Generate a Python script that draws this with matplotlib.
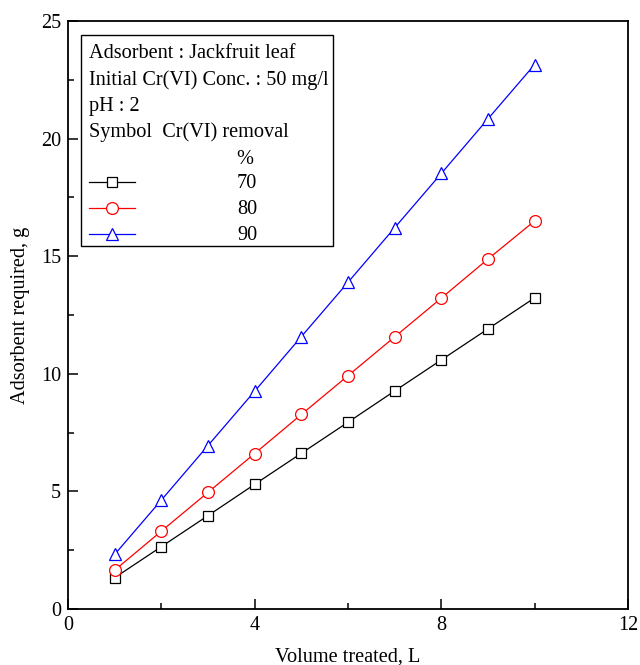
import matplotlib
matplotlib.use("Agg")
import matplotlib.pyplot as plt
from matplotlib.patches import Rectangle
from matplotlib.ticker import MultipleLocator

volume = [1, 2, 3, 4, 5, 6, 7, 8, 9, 10]
ads_70 = [1.33, 2.65, 3.97, 5.30, 6.62, 7.94, 9.27, 10.59, 11.91, 13.23]
ads_80 = [1.65, 3.31, 4.96, 6.61, 8.27, 9.92, 11.57, 13.22, 14.88, 16.50]
ads_90 = [2.32, 4.63, 6.95, 9.26, 11.58, 13.89, 16.21, 18.52, 20.84, 23.15]
removal = ["70", "80", "90"]
info_lines = ["Adsorbent : Jackfruit leaf",
              "Initial Cr(VI) Conc. : 50 mg/l",
              "pH : 2",
              "Symbol  Cr(VI) removal"]

plt.rcParams['font.family'] = ['Liberation Serif', 'DejaVu Serif']
plt.rcParams['font.size'] = 14.6

fig = plt.figure(figsize=(6.4, 6.65), dpi=100)
ax = fig.add_axes([68 / 640, 1 - 609 / 665, 560 / 640, 588 / 665])

styles = [("black", "s", 7.5), ("red", "o", 8.5), ("blue", "^", 9)]
series = [ads_70, ads_80, ads_90]
for (c, m, ms), ys in zip(styles, series):
    ax.plot(volume, ys, color=c, marker=m, markersize=ms, markerfacecolor="white",
            markeredgecolor=c, markeredgewidth=0.9, linewidth=0.9)

ax.set_xlim(0, 12)
ax.set_ylim(0, 25)
ax.xaxis.set_major_locator(MultipleLocator(4))
ax.xaxis.set_minor_locator(MultipleLocator(2))
ax.yaxis.set_major_locator(MultipleLocator(5))
ax.yaxis.set_minor_locator(MultipleLocator(2.5))
ax.tick_params(which="major", direction="in", length=7, width=1.1, labelsize=14.6, pad=5)
ax.tick_params(which="minor", direction="in", length=4, width=1.1)
for s in ax.spines.values():
    s.set_linewidth(1.3)
ax.set_xlabel("Volume treated, L", labelpad=9)
ax.set_ylabel("Adsorbent required, g", labelpad=8)


# hand-made legend box
def fx(px):
    return (px - 68) / 560


def fy(py):
    return (609 - py) / 588


ax.add_patch(Rectangle((fx(81), fy(246)), fx(333) - fx(81), fy(35) - fy(246),
                       transform=ax.transAxes, facecolor="white",
                       edgecolor="black", linewidth=1.0, zorder=5))
for i, line in enumerate(info_lines):
    ax.text(fx(89), fy(54 + 26 * i), line, transform=ax.transAxes,
            va="center", ha="left", zorder=6)
ax.text(fx(236), fy(159), "%", transform=ax.transAxes, va="center", ha="left", zorder=6)
for i, ((c, m, ms), lab) in enumerate(zip(styles, removal)):
    y = fy(182 + 26 * i)
    ax.plot([fx(89), fx(135)], [y, y], color=c, linewidth=0.9,
            transform=ax.transAxes, zorder=6, clip_on=False)
    ax.plot([fx(112)], [y], color=c, marker=m, markersize=ms, markerfacecolor="white",
            markeredgecolor=c, markeredgewidth=0.9, transform=ax.transAxes,
            zorder=7, clip_on=False)
    ax.text(fx(237), fy(184 + 26 * i), lab, transform=ax.transAxes,
            va="center", ha="left", zorder=6)

fig.savefig("out.png", dpi=100)
